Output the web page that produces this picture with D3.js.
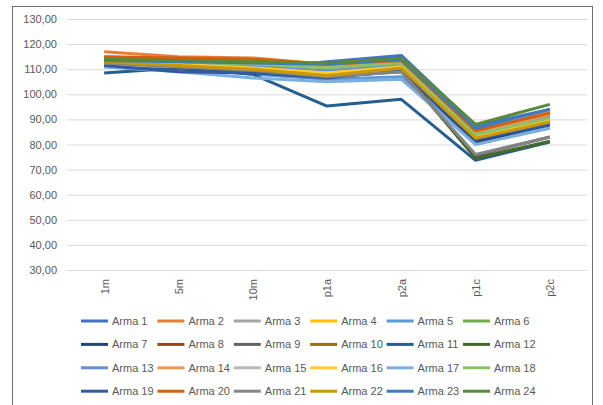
<!DOCTYPE html>
<html>
<head>
<meta charset="utf-8">
<script src="https://cdn.jsdelivr.net/npm/d3@7"></script>
<style>
  body { margin: 0; background: #fff; }
  text { font-family: "Liberation Sans", Arial, sans-serif; fill: #595959; }
</style>
</head>
<body>
<svg id="chart"></svg>
<script>
var width = 603,
    height = 405;

var categories = ['1m', '5m', '10m', 'p1a', 'p2a', 'p1c', 'p2c'];
var yTicks = [30, 40, 50, 60, 70, 80, 90, 100, 110, 120, 130];

var seriesNames = [
  'Arma 1', 'Arma 2', 'Arma 3', 'Arma 4', 'Arma 5', 'Arma 6',
  'Arma 7', 'Arma 8', 'Arma 9', 'Arma 10', 'Arma 11', 'Arma 12',
  'Arma 13', 'Arma 14', 'Arma 15', 'Arma 16', 'Arma 17', 'Arma 18',
  'Arma 19', 'Arma 20', 'Arma 21', 'Arma 22', 'Arma 23', 'Arma 24'
];

var seriesValues = [
  [112.0, 111.0, 110.0, 113.0, 115.5, 87.5, 94.0],
  [117.0, 115.0, 114.5, 112.0, 113.5, 85.0, 93.0],
  [111.0, 110.0, 109.0, 107.5, 110.0, 82.0, 89.0],
  [113.0, 111.5, 110.0, 108.0, 111.5, 83.0, 90.0],
  [112.5, 111.0, 108.0, 106.0, 107.0, 80.5, 87.0],
  [114.0, 113.0, 112.0, 111.0, 113.0, 85.5, 92.0],
  [113.0, 111.0, 109.0, 107.0, 109.5, 81.0, 88.0],
  [114.5, 114.0, 113.5, 111.5, 112.5, 84.0, 91.0],
  [111.5, 110.0, 109.0, 107.0, 109.0, 75.5, 83.0],
  [113.5, 112.0, 111.0, 109.0, 111.0, 83.0, 89.5],
  [108.5, 110.5, 108.0, 95.3, 98.0, 73.7, 81.0],
  [113.5, 112.5, 111.0, 108.0, 110.0, 74.5, 81.3],
  [113.0, 112.0, 111.0, 109.5, 112.0, 85.0, 91.5],
  [115.0, 114.0, 113.0, 111.0, 113.0, 84.5, 92.0],
  [112.0, 111.0, 110.0, 108.5, 110.5, 82.5, 89.0],
  [113.5, 112.0, 110.5, 108.5, 111.0, 83.5, 90.0],
  [111.0, 109.0, 106.5, 105.0, 106.0, 80.0, 86.5],
  [113.5, 113.0, 112.0, 110.5, 112.5, 84.0, 90.5],
  [111.5, 109.0, 108.5, 106.5, 109.5, 82.0, 88.0],
  [115.0, 114.5, 114.0, 112.0, 113.5, 85.5, 92.5],
  [112.5, 111.0, 109.5, 107.0, 109.0, 76.0, 83.0],
  [113.0, 111.5, 110.0, 107.5, 110.5, 82.5, 89.0],
  [113.5, 113.0, 112.5, 112.0, 114.0, 86.5, 94.0],
  [114.0, 113.5, 113.0, 112.5, 114.5, 88.0, 96.0]
];

var seriesColors = [
  '#4472C4', '#ED7D31', '#A5A5A5', '#FFC000', '#5B9BD5', '#70AD47',
  '#264478', '#9E480E', '#636363', '#997300', '#255E91', '#43682B',
  '#698ED0', '#F1975A', '#B7B7B7', '#FFCD33', '#7CAFDD', '#8CC168',
  '#335AA1', '#D26012', '#848484', '#CC9A00', '#3A7DC0', '#5A8A39'
];

var PLOT = { LEFT: 67, RIGHT: 587, TOP: 19, BOTTOM: 270 };

var svg = d3.select('#chart')
    .attr('width', width)
    .attr('height', height);

// chart area border
svg.append('rect')
    .attr('x', 12.5).attr('y', 6.5)
    .attr('width', 580).attr('height', 420)
    .attr('fill', 'none')
    .attr('stroke', '#6e6e6e')
    .attr('stroke-width', 1);

var xScale = d3.scalePoint()
    .domain(categories)
    .range([PLOT.LEFT, PLOT.RIGHT])
    .padding(0.5);

var yScale = d3.scaleLinear()
    .domain([30, 130])
    .range([PLOT.BOTTOM, PLOT.TOP]);

// gridlines + y labels
var yAxis = d3.axisLeft(yScale)
    .tickValues(yTicks)
    .tickSize(-(PLOT.RIGHT - PLOT.LEFT))
    .tickPadding(10)
    .tickFormat(function (d) { return d.toFixed(2).replace('.', ','); });

var yg = svg.append('g')
    .attr('transform', 'translate(' + PLOT.LEFT + ',0)')
    .call(yAxis);
yg.select('.domain').remove();
yg.selectAll('line').attr('stroke', '#d9d9d9').attr('stroke-width', 1);
yg.selectAll('text')
    .style('font-size', '11px')
    .style('font-family', '"Liberation Sans", Arial, sans-serif')
    .attr('fill', '#595959');

// category labels
var xAxis = d3.axisBottom(xScale)
    .tickSize(0)
    .tickPadding(0);

var xg = svg.append('g')
    .attr('transform', 'translate(0,' + PLOT.BOTTOM + ')')
    .call(xAxis);
xg.select('.domain').remove();
xg.selectAll('text')
    .attr('transform', 'rotate(-90)')
    .attr('x', -9)
    .attr('y', 0)
    .attr('dy', '0.35em')
    .style('text-anchor', 'end')
    .style('font-size', '11px')
    .style('font-family', '"Liberation Sans", Arial, sans-serif')
    .attr('fill', '#595959');

// lines
var line = d3.line()
    .x(function (d, i) { return xScale(categories[i]); })
    .y(function (d) { return yScale(d); });

svg.append('g')
    .selectAll('path')
    .data(seriesValues)
    .enter()
    .append('path')
    .attr('d', line)
    .attr('fill', 'none')
    .attr('stroke', function (d, i) { return seriesColors[i]; })
    .attr('stroke-width', 3)
    .attr('stroke-linejoin', 'round');

// legend
var legend = svg.append('g');
var legItems = legend.selectAll('g')
    .data(seriesNames)
    .enter()
    .append('g')
    .attr('transform', function (d, i) {
        var col = i % 6, row = Math.floor(i / 6);
        return 'translate(' + (81 + col * 76.4) + ',' + (321 + row * 23.4) + ')';
    });

legItems.append('line')
    .attr('x1', 0).attr('x2', 27)
    .attr('y1', 0).attr('y2', 0)
    .attr('stroke', function (d, i) { return seriesColors[i]; })
    .attr('stroke-width', 3);

legItems.append('text')
    .attr('x', 31)
    .attr('dy', '0.35em')
    .style('font-size', '11px')
    .attr('fill', '#595959')
    .text(function (d) { return d; });
</script>
</body>
</html>
